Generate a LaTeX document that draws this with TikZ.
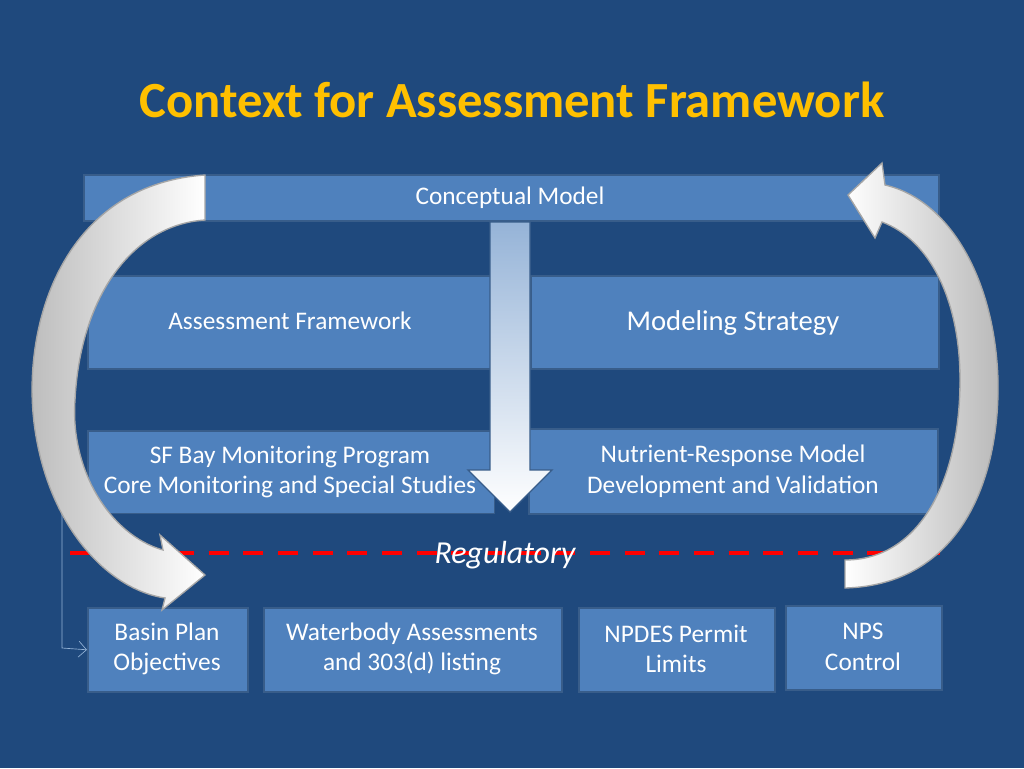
\documentclass[tikz,border=0pt]{standalone}
\usepackage{fontspec}
\setmainfont{Carlito}
\usetikzlibrary{arrows.meta}
\definecolor{bg}{HTML}{1F497D}
\definecolor{boxf}{HTML}{4F81BD}
\definecolor{boxd}{HTML}{385D8A}
\definecolor{ttl}{HTML}{FFC000}
\begin{document}
\begin{tikzpicture}[x=0.75pt,y=-0.75pt,
  bx/.style={draw=boxd,line width=1.2pt,fill=boxf,text=white,align=center,inner sep=0pt},
  fs/.style={font=\fontsize{19}{23}\selectfont}]
\fill[bg] (0,0) rectangle (1024,768);
\useasboundingbox (0,0) rectangle (1024,768);
\node (title) at (512,100) {\fontsize{38}{44}\selectfont\bfseries\color{ttl}Context for Assessment Framework};
\node[bx,minimum width=641.25pt, minimum height=34.5pt, anchor=north west] (cm) at (83,174) {};
\node[text=white,fs] at (510,198) {Conceptual Model};
\node[bx,minimum width=302pt,minimum height=70pt,anchor=north west] (af) at (87,275) {};
\node[text=white,font=\fontsize{19}{22}\selectfont] at (290,321) {Assessment Framework};
\node[bx,minimum width=306pt,minimum height=70pt,anchor=north west] (ms) at (530,275) {};
\node[text=white,font=\fontsize{21.5}{25}\selectfont] at (733,323) {Modeling Strategy};
\node[bx,minimum width=305pt,minimum height=62pt,anchor=north west] (sf) at (87,430) {};
\node[text=white,fs,align=center] at (290,472) {SF Bay Monitoring Program\\Core Monitoring and Special Studies};
\node[bx,minimum width=307pt,minimum height=64pt,anchor=north west] (nr) at (528,428) {};
\node[text=white,fs,align=center] at (733,471) {Nutrient-Response Model\\Development and Validation};
% vertical arrow
\draw[boxd,line width=1pt,top color=boxf!60!white,bottom color=white] (490,222)--(530,222)--(530,470)--(552,470)--(510,512)--(468,470)--(490,470)--cycle;
% regulatory
\draw[red,line width=3pt,dash pattern=on 15pt off 11pt] (70,553)--(940,553);
\node[text=white,font=\fontsize{24}{28}\selectfont\itshape] (reg) at (505,555) {Regulatory};
% bottom boxes
\node[bx,minimum width=120pt,minimum height=63pt,anchor=north west] (bp) at (87,607) {};
\node[text=white,fs,align=center] at (167,649) {Basin Plan\\Objectives};
\node[bx,minimum width=223.5pt,minimum height=63pt,anchor=north west] (wa) at (263,607) {};
\node[text=white,fs,align=center] at (412,649) {Waterbody Assessments\\and 303(d) listing};
\node[bx,minimum width=147pt,minimum height=63pt,anchor=north west] (np) at (578,607) {};
\node[text=white,fs,align=center] at (676,649) {NPDES Permit\\Limits};
\node[bx,minimum width=117pt,minimum height=63pt,anchor=north west] (nps) at (785,605) {};
\node[text=white,fs,align=center] at (863,647) {NPS\\Control};
% bracket connector
\coordinate (c1) at (62,321);
\coordinate (c2) at (62,648);
\draw[boxf!60!white,line width=0.5pt,-{Straight Barb[length=6pt]}] (af.west) -- (c1) -- (c2) -- (bp.west);
% curved arrows
\draw[gray!70,line width=1pt,left color=gray!55,right color=white]
 (205,175) .. controls (60,185) and (20,330) .. (35,430) .. controls (50,530) and (110,590) .. (165,598)
 -- (162,610) -- (205,575) -- (160,535) -- (163,550)
 .. controls (110,535) and (70,470) .. (75,400) .. controls (80,300) and (130,225) .. (205,220) -- cycle;
\draw[gray!70,line width=1pt,left color=white,right color=gray!55]
 (845,588) .. controls (960,585) and (1000,480) .. (998,380) .. controls (995,280) and (950,200) .. (885,185)
 -- (882,163) -- (848,195) -- (875,238) -- (882,222)
 .. controls (930,240) and (960,300) .. (960,380) .. controls (960,480) and (920,560) .. (845,560) -- cycle;
\end{tikzpicture}
\end{document}
